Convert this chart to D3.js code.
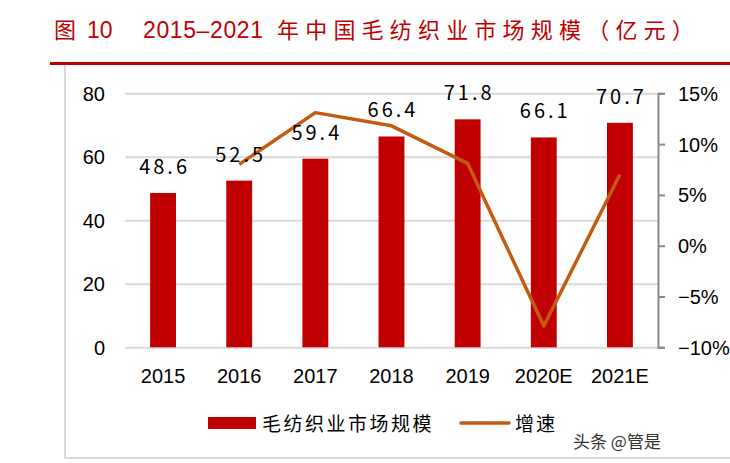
<!DOCTYPE html>
<html>
<head>
<meta charset="utf-8">
<script src="https://cdn.jsdelivr.net/npm/d3@7"></script>
<style>
  body { margin: 0; background: #fff; }
  svg { display: block; }
  text { font-family: "Liberation Sans", Arial, sans-serif; }
  .cjk { font-family: "Noto Sans CJK SC", sans-serif; }
</style>
</head>
<body>
<svg width="730" height="463"></svg>
<script>
let width = 730;
let height = 463;

// chart data
let years = ["2015", "2016", "2017", "2018", "2019", "2020E", "2021E"];
let marketSize = [48.6, 52.5, 59.4, 66.4, 71.8, 66.1, 70.7];      // 亿元
let growth = [null, 8.0, 13.1, 11.8, 8.1, -7.9, 7.0];            // %
let leftTicks = [0, 20, 40, 60, 80];
let rightTicks = [-10, -5, 0, 5, 10, 15];

let plot = { left: 125, right: 658, top: 93.3, bottom: 347.3 };

let svg = d3.select("svg");

// title, in pieces so the spacing matches
let title = svg.append("g").style("fill", "#C00000");
title.append("text")
    .attr("class", "cjk")
    .attr("x", 54).attr("y", 38)
    .style("font-size", "22px")
    .text("图");
title.append("text")
    .attr("x", 87).attr("y", 38)
    .style("font-size", "23px")
    .text("10");
title.append("text")
    .attr("x", 143).attr("y", 38)
    .style("font-size", "23px")
    .attr("textLength", 120)
    .text("2015–2021");
title.append("text")
    .attr("class", "cjk")
    .attr("x", 277).attr("y", 38)
    .style("font-size", "22px")
    .style("letter-spacing", "6.2px")
    .text("年中国毛纺织业市场规模（亿元）");

svg.append("line")
    .attr("x1", 50).attr("x2", 730)
    .attr("y1", 63.5).attr("y2", 63.5)
    .style("stroke", "#C00000")
    .style("stroke-width", 3);

svg.append("path")
    .attr("d", "M65,65V458H730")
    .style("fill", "none")
    .style("stroke", "#d9d9d9")
    .style("stroke-width", 2);

// scales
let x = d3.scaleBand()
    .domain(years)
    .range([plot.left, plot.right])
    .paddingInner(0.66)
    .paddingOuter(0.33);

let y = d3.scaleLinear()
    .domain([0, 80])
    .range([plot.bottom, plot.top]);

let y2 = d3.scaleLinear()
    .domain([-10, 15])
    .range([plot.bottom, plot.top]);

// gridlines + left labels
let leftAxis = d3.axisLeft(y)
    .tickValues(leftTicks)
    .tickSize(-(plot.right - plot.left))
    .tickPadding(20)
    .tickFormat(d3.format("d"));

let gLeft = svg.append("g")
    .attr("transform", `translate(${plot.left},0)`)
    .call(leftAxis);
gLeft.select(".domain").remove();
gLeft.selectAll(".tick line")
    .style("stroke", "#d9d9d9")
    .style("stroke-width", 2);
gLeft.selectAll(".tick text")
    .style("font-size", "20px")
    .style("fill", "#000")
    .attr("dy", "0.35em");

// bars
svg.append("g")
    .selectAll("rect")
    .data(marketSize)
    .join("rect")
    .attr("x", (d, i) => x(years[i]))
    .attr("width", x.bandwidth())
    .attr("y", d => y(d))
    .attr("height", d => y(0) - y(d))
    .style("fill", "#C00000");

// growth line
let line = d3.line()
    .defined(d => d[1] != null)
    .x(d => x(d[0]) + x.bandwidth() / 2)
    .y(d => y2(d[1]));

svg.append("path")
    .datum(years.map((yr, i) => [yr, growth[i]]))
    .attr("d", line)
    .style("fill", "none")
    .style("stroke", "#C55A11")
    .style("stroke-width", 3.5)
    .style("stroke-linejoin", "round");

// value labels (wide dot look of the original font)
svg.append("g")
    .selectAll("text")
    .data(marketSize)
    .join("text")
    .attr("class", "cjk")
    .attr("x", (d, i) => x(years[i]) + x.bandwidth() / 2 + 1.5)
    .attr("y", d => y(d) - 19)
    .attr("text-anchor", "middle")
    .style("font-size", "20px")
    .style("letter-spacing", "3px")
    .style("fill", "#000")
    .text(d => d3.format(".1f")(d));

// x labels
svg.append("g")
    .selectAll("text")
    .data(years)
    .join("text")
    .attr("x", d => x(d) + x.bandwidth() / 2)
    .attr("y", 383)
    .attr("text-anchor", "middle")
    .style("font-size", "20px")
    .style("fill", "#000")
    .text(d => d);

// right axis
let rightAxis = d3.axisRight(y2)
    .tickValues(rightTicks)
    .tickSize(7)
    .tickPadding(13)
    .tickFormat(d => d3.format("d")(d) + "%");

let gRight = svg.append("g")
    .attr("transform", `translate(${plot.right},0)`)
    .call(rightAxis);
gRight.select(".domain")
    .style("stroke", "#898989")
    .style("stroke-width", 2);
gRight.selectAll(".tick line")
    .style("stroke", "#898989")
    .style("stroke-width", 2);
gRight.selectAll(".tick text")
    .style("font-size", "20px")
    .style("fill", "#000")
    .attr("dy", "0.35em");

// legend
let legend = svg.append("g");
legend.append("rect")
    .attr("x", 208).attr("y", 417)
    .attr("width", 48).attr("height", 12)
    .style("fill", "#C00000");
legend.append("text")
    .attr("class", "cjk")
    .attr("x", 262).attr("y", 431)
    .style("font-size", "19px")
    .style("letter-spacing", "2.5px")
    .text("毛纺织业市场规模");
legend.append("line")
    .attr("x1", 461).attr("x2", 509)
    .attr("y1", 423).attr("y2", 423)
    .style("stroke", "#C55A11")
    .style("stroke-width", 3.5)
    .style("stroke-linecap", "round");
legend.append("text")
    .attr("class", "cjk")
    .attr("x", 515).attr("y", 431)
    .style("font-size", "19px")
    .style("letter-spacing", "2px")
    .text("增速");

// watermark
svg.append("text")
    .attr("class", "cjk")
    .attr("x", 573).attr("y", 448)
    .style("font-size", "17px")
    .style("fill", "#333")
    .text("头条 @管是");
</script>
</body>
</html>
